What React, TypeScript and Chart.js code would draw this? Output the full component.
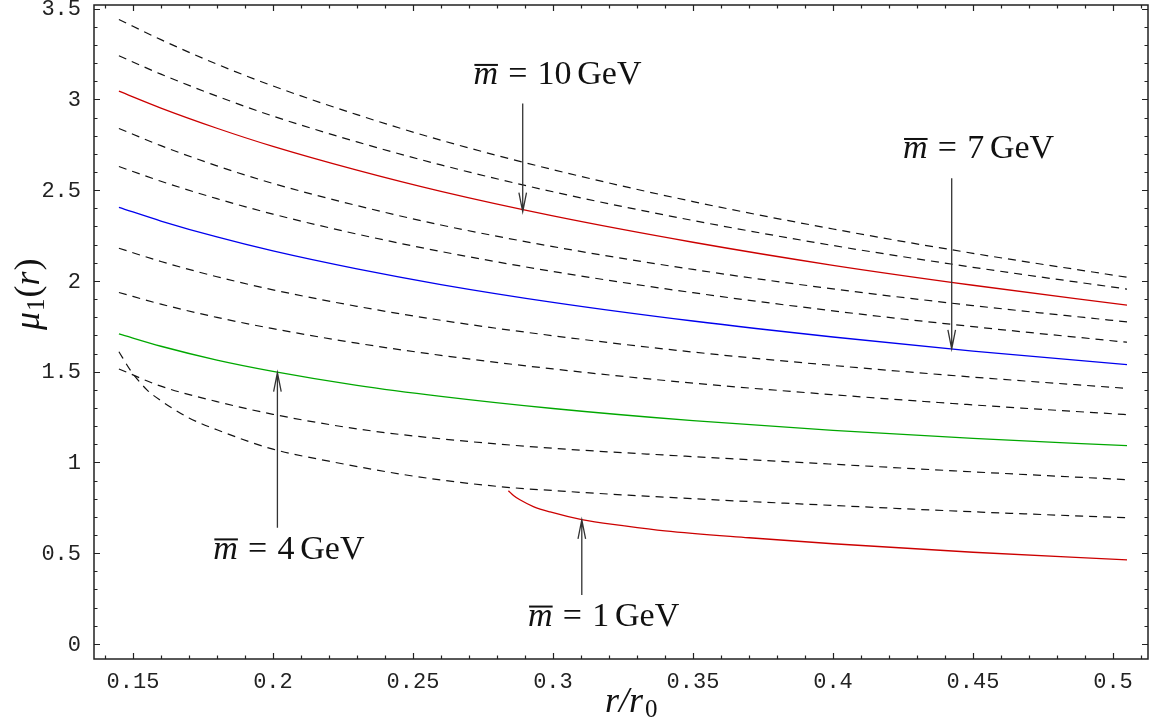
import React, { useEffect, useRef } from 'react';
import { Chart, registerables } from 'chart.js';

Chart.register(...registerables);

// ---------- data ----------
const R = [0.145, 0.16, 0.18, 0.2, 0.23, 0.26, 0.3, 0.35, 0.4, 0.45, 0.505];
const DASH_1 = [3.44, 3.329, 3.194, 3.074, 2.916, 2.775, 2.613, 2.437, 2.286, 2.152, 2.02];
const DASH_2 = [3.24, 3.139, 3.018, 2.908, 2.766, 2.639, 2.491, 2.333, 2.195, 2.075, 1.955];
const MU_10GEV = [3.045, 2.952, 2.841, 2.741, 2.61, 2.493, 2.358, 2.213, 2.086, 1.976, 1.866];
const DASH_3 = [2.84, 2.745, 2.634, 2.537, 2.415, 2.308, 2.189, 2.063, 1.956, 1.864, 1.774];
const DASH_4 = [2.63, 2.549, 2.453, 2.368, 2.258, 2.162, 2.052, 1.935, 1.835, 1.748, 1.662];
const MU_7GEV = [2.405, 2.33, 2.242, 2.165, 2.066, 1.98, 1.882, 1.779, 1.691, 1.613, 1.539];
const DASH_5 = [2.18, 2.107, 2.023, 1.951, 1.86, 1.783, 1.698, 1.608, 1.534, 1.47, 1.408];
const DASH_6 = [1.936, 1.872, 1.799, 1.737, 1.657, 1.59, 1.515, 1.437, 1.373, 1.317, 1.263];
const MU_4GEV = [1.708, 1.64, 1.564, 1.502, 1.425, 1.364, 1.297, 1.23, 1.177, 1.133, 1.092];
const DASH_7 = [1.515, 1.42, 1.335, 1.265, 1.185, 1.13, 1.078, 1.032, 0.99, 0.948, 0.905];
const R_DASH_8 = [0.145, 0.149, 0.155, 0.16, 0.17, 0.18, 0.2, 0.22, 0.25, 0.28, 0.3, 0.35, 0.4, 0.45, 0.505];
const DASH_8 = [1.61, 1.51, 1.4, 1.34, 1.245, 1.18, 1.073, 1.007, 0.925, 0.868, 0.845, 0.8, 0.763, 0.728, 0.695];
const R_1GEV = [0.2841, 0.2859, 0.2882, 0.293, 0.299, 0.3103, 0.325, 0.34, 0.37, 0.4, 0.45, 0.505];
const MU_1GEV = [0.844, 0.818, 0.794, 0.757, 0.727, 0.685, 0.652, 0.623, 0.585, 0.552, 0.505, 0.463];

// axis ticks
const X_TICKS = [0.15, 0.2, 0.25, 0.3, 0.35, 0.4, 0.45, 0.5];
const X_TICK_LABELS = ['0.15', '0.2', '0.25', '0.3', '0.35', '0.4', '0.45', '0.5'];
const Y_TICKS = [0, 0.5, 1, 1.5, 2, 2.5, 3, 3.5];
const Y_TICK_LABELS = ['0', '0.5', '1', '1.5', '2', '2.5', '3', '3.5'];

// annotations
const NOTE_MASS = ['10', '7', '4', '1'];
const NOTE_X = [0.3016, 0.452, 0.2057, 0.3181];
const NOTE_Y = [3.083, 2.675, 0.469, 0.099];
const ARROW_X = [0.2892, 0.4424, 0.2016, 0.3103];
const ARROW_FROM = [2.978, 2.565, 0.64, 0.27];
const ARROW_TO = [2.381, 1.625, 1.495, 0.684];

const RED = '#cc0000';
const BLUE = '#0000ee';
const GREEN = '#00a800';
const SERIF = '"Liberation Serif", "DejaVu Serif", serif';
const MONO = '"Liberation Mono", "DejaVu Sans Mono", monospace';

const pts = (xs: number[], ys: number[]) => xs.map((x, i) => ({ x, y: ys[i] }));

const dashed = (ys: number[], xs: number[] = R) => ({
  data: pts(xs, ys),
  borderColor: '#111',
  borderWidth: 1.2,
  borderDash: [8, 6],
});
const solid = (ys: number[], color: string, xs: number[] = R) => ({
  data: pts(xs, ys),
  borderColor: color,
  borderWidth: 1.3,
});

function drawMassLabel(ctx: CanvasRenderingContext2D, cx: number, base: number, mass: string) {
  const S = 34;
  const it = `italic ${S}px ${SERIF}`;
  const up = `${S}px ${SERIF}`;
  ctx.font = it;
  const wm = ctx.measureText('m').width;
  ctx.font = up;
  const weq = ctx.measureText('=').width;
  const wn = ctx.measureText(mass).width;
  const wg = ctx.measureText('GeV').width;
  const g1 = 0.3 * S;
  const g2 = 0.17 * S;
  const total = wm + g1 + weq + g1 + wn + g2 + wg;
  let x = cx - total / 2;
  ctx.fillStyle = '#111';
  ctx.textAlign = 'left';
  ctx.textBaseline = 'alphabetic';
  ctx.font = it;
  ctx.fillText('m', x, base);
  ctx.fillRect(x + 1, base - 0.6 * S, wm - 1, 2);
  x += wm + g1;
  ctx.font = up;
  ctx.fillText('=', x, base);
  x += weq + g1;
  ctx.fillText(mass, x, base);
  x += wn + g2;
  ctx.fillText('GeV', x, base);
}

function drawArrow(ctx: CanvasRenderingContext2D, x: number, y0: number, y1: number) {
  const dir = y1 > y0 ? 1 : -1;
  ctx.strokeStyle = '#333';
  ctx.lineWidth = 1.3;
  ctx.beginPath();
  ctx.moveTo(x, y0);
  ctx.lineTo(x, y1);
  ctx.moveTo(x - 3.8, y1 - dir * 19);
  ctx.lineTo(x, y1);
  ctx.lineTo(x + 3.8, y1 - dir * 19);
  ctx.stroke();
}

const framePlugin = {
  id: 'frameTicks',
  afterDraw(chart: any) {
    const { ctx, chartArea: a, scales } = chart;
    const xs = scales.x;
    const ys = scales.y;
    ctx.save();

    // inward ticks on all four sides
    ctx.strokeStyle = '#222';
    ctx.lineWidth = 1.2;
    ctx.beginPath();
    for (let i = 14; i <= 51; i++) {
      const v = i / 100;
      const px = Math.round(xs.getPixelForValue(v)) + 0.5;
      const len = i % 5 === 0 ? 6 : 3.5;
      ctx.moveTo(px, a.bottom);
      ctx.lineTo(px, a.bottom - len);
      ctx.moveTo(px, a.top);
      ctx.lineTo(px, a.top + len);
    }
    for (let i = 0; i <= 35; i++) {
      const v = i / 10;
      const py = Math.round(ys.getPixelForValue(v)) + 0.5;
      const len = i % 5 === 0 ? 6 : 3.5;
      ctx.moveTo(a.left, py);
      ctx.lineTo(a.left + len, py);
      ctx.moveTo(a.right, py);
      ctx.lineTo(a.right - len, py);
    }
    ctx.stroke();

    // frame
    ctx.lineWidth = 1.5;
    ctx.strokeStyle = '#222';
    ctx.strokeRect(a.left, a.top, a.right - a.left, a.bottom - a.top);

    // tick labels
    ctx.fillStyle = '#222';
    ctx.font = `22px ${MONO}`;
    ctx.textAlign = 'center';
    ctx.textBaseline = 'middle';
    X_TICKS.forEach((v, i) => {
      ctx.fillText(X_TICK_LABELS[i], xs.getPixelForValue(v), a.bottom + 23);
    });
    ctx.textAlign = 'right';
    Y_TICKS.forEach((v, i) => {
      ctx.fillText(Y_TICK_LABELS[i], a.left - 13, ys.getPixelForValue(v) + 1);
    });

    // x-axis title r/r0
    ctx.fillStyle = '#111';
    ctx.textAlign = 'left';
    ctx.textBaseline = 'alphabetic';
    ctx.font = `italic 36px ${SERIF}`;
    let tx = 605;
    ctx.fillText('r/r', tx, 712);
    tx += ctx.measureText('r/r').width + 2;
    ctx.font = `25px ${SERIF}`;
    ctx.fillText('0', tx, 717);

    // y-axis title mu_1(r)
    ctx.save();
    ctx.translate(39, 330);
    ctx.rotate(-Math.PI / 2);
    ctx.font = `italic 36px ${SERIF}`;
    let ty = 0;
    ctx.fillText('\u03bc', ty, 0);
    ty += ctx.measureText('\u03bc').width + 1;
    ctx.font = `25px ${SERIF}`;
    ctx.fillText('1', ty, 5);
    ty += ctx.measureText('1').width + 1;
    ctx.font = `36px ${SERIF}`;
    ctx.fillText('(', ty, 0);
    ty += ctx.measureText('(').width;
    ctx.font = `italic 36px ${SERIF}`;
    ctx.fillText('r', ty, 0);
    ty += ctx.measureText('r').width + 1;
    ctx.font = `36px ${SERIF}`;
    ctx.fillText(')', ty, 0);
    ctx.restore();

    // annotations
    NOTE_MASS.forEach((m, i) => {
      const ax = xs.getPixelForValue(ARROW_X[i]);
      drawArrow(ctx, ax, ys.getPixelForValue(ARROW_FROM[i]), ys.getPixelForValue(ARROW_TO[i]));
      drawMassLabel(ctx, xs.getPixelForValue(NOTE_X[i]), ys.getPixelForValue(NOTE_Y[i]), m);
    });

    ctx.restore();
  },
};

export default function App() {
  const ref = useRef<HTMLCanvasElement>(null);
  useEffect(() => {
    const canvas = ref.current;
    if (!canvas) return;
    const chart = new Chart(canvas, {
      type: 'line',
      data: {
        datasets: [
          dashed(DASH_1),
          dashed(DASH_2),
          solid(MU_10GEV, RED),
          dashed(DASH_3),
          dashed(DASH_4),
          solid(MU_7GEV, BLUE),
          dashed(DASH_5),
          dashed(DASH_6),
          solid(MU_4GEV, GREEN),
          dashed(DASH_7),
          dashed(DASH_8, R_DASH_8),
          solid(MU_1GEV, RED, R_1GEV),
        ] as any,
      },
      options: {
        animation: false,
        responsive: false,
        devicePixelRatio: 1,
        events: [],
        layout: { padding: { top: 5, right: 9, left: 0, bottom: 0 } },
        elements: {
          point: { radius: 0 },
          line: { cubicInterpolationMode: 'monotone', fill: false },
        },
        plugins: { legend: { display: false }, tooltip: { enabled: false }, title: { display: false } },
        scales: {
          x: {
            type: 'linear',
            min: 0.1361,
            max: 0.5125,
            grid: { display: false },
            border: { display: false },
            ticks: { display: false },
            afterFit: (s: any) => {
              s.height = 65;
            },
          },
          y: {
            type: 'linear',
            min: -0.083,
            max: 3.52,
            grid: { display: false },
            border: { display: false },
            ticks: { display: false },
            afterFit: (s: any) => {
              s.width = 94;
            },
          },
        },
      },
      plugins: [framePlugin],
    });
    return () => chart.destroy();
  }, []);
  return (
    <div style={{ position: 'absolute', left: 0, top: 0, width: 1157, height: 724, background: '#fff' }}>
      <canvas ref={ref} width={1157} height={724} style={{ display: 'block' }} />
    </div>
  );
}
